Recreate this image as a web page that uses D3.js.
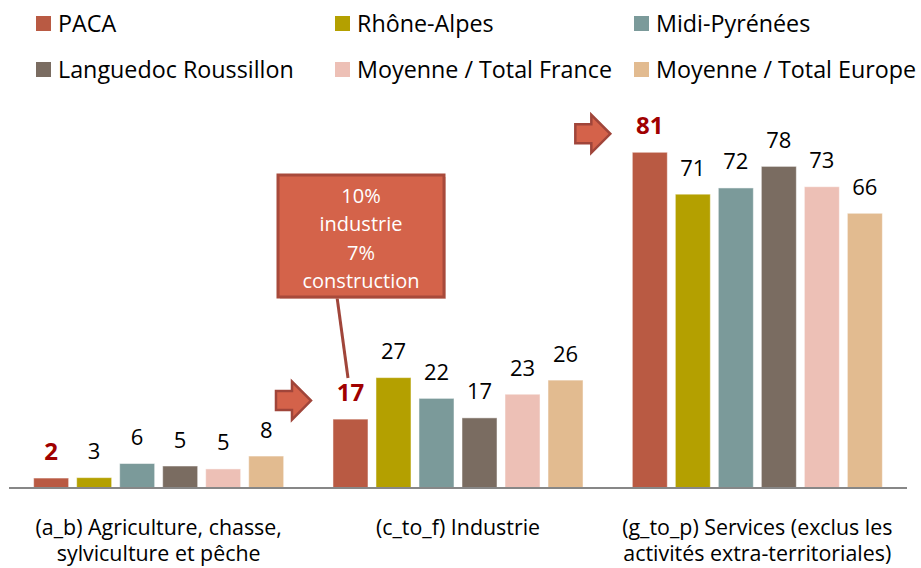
<!DOCTYPE html>
<html>
<head>
<meta charset="utf-8">
<script src="https://cdn.jsdelivr.net/npm/d3@7"></script>
<style>
  body { margin: 0; background: #fff; }
  svg { display: block; font-family: "Open Sans", Lato, sans-serif; }
</style>
</head>
<body>
<div id="vis"></div>
<script>
// frame size
const WIDTH = 921;
const HEIGHT = 568;

// data
const CATEGORIES = ["a_b", "c_to_f", "g_to_p"];
const CATEGORY_LINES = [
    ["(a_b) Agriculture, chasse,", "sylviculture et pêche"],
    ["(c_to_f) Industrie"],
    ["(g_to_p) Services (exclus les", "activités extra-territoriales)"]
];
const SERIES = ["PACA", "Rhône-Alpes", "Midi-Pyrénées", "Languedoc Roussillon",
                "Moyenne / Total France", "Moyenne / Total Europe"];
const PACA = [2.4, 16.6, 80.9];
const RHONE_ALPES = [2.5, 26.6, 70.8];
const MIDI_PYRENEES = [5.9, 21.6, 72.3];
const LANGUEDOC = [5.3, 16.9, 77.5];
const FRANCE = [4.6, 22.6, 72.6];
const EUROPE = [7.7, 26.0, 66.2];
const CALLOUT_LINES = ["10%", "industrie", "7%", "construction"];

const VALUES = [PACA, RHONE_ALPES, MIDI_PYRENEES, LANGUEDOC, FRANCE, EUROPE];
const COLORS = ["#b95a43", "#b4a000", "#7b9a9a", "#7a6c61", "#edc0b6", "#e2bb90"];

// build rows for the bars
let rows = [];
CATEGORIES.forEach((c, i) => {
    SERIES.forEach((s, j) => {
        rows.push({cat: c, series: s, value: VALUES[j][i]});
    });
});

const FRAME = d3.select("#vis")
    .append("svg")
        .attr("width", WIDTH)
        .attr("height", HEIGHT);

// scales
const X0 = d3.scaleBand()
    .domain(CATEGORIES)
    .range([9, 907]);
const X1 = d3.scaleBand()
    .domain(SERIES)
    .range([0, X0.bandwidth()])
    .paddingInner(0.186)
    .paddingOuter(0.573);
const Y = d3.scaleLinear()
    .domain([0, 90])
    .range([488, 114.5]);

const color = d3.scaleOrdinal().domain(SERIES).range(COLORS);

// bars
FRAME.selectAll(".bar")
    .data(rows)
    .enter().append("rect")
        .attr("class", "bar")
        .attr("x", (d) => { return X0(d.cat) + X1(d.series); })
        .attr("y", (d) => { return Y(d.value); })
        .attr("width", X1.bandwidth())
        .attr("height", (d) => { return Y(0) - Y(d.value); })
        .attr("fill", (d) => { return color(d.series); })
        .attr("stroke", "#ffffff")
        .attr("stroke-opacity", 0.5)
        .attr("stroke-width", 1);

// value labels (PACA bigger, bold, dark red)
FRAME.selectAll(".val")
    .data(rows)
    .enter().append("text")
        .attr("class", "val")
        .attr("x", (d) => { return X0(d.cat) + X1(d.series) + X1.bandwidth() / 2; })
        .attr("y", (d) => { return Y(d.value) - 18.5; })
        .attr("text-anchor", "middle")
        .attr("font-size", (d) => { return d.series == "PACA" ? "24px" : "22px"; })
        .attr("font-weight", (d) => { return d.series == "PACA" ? "bold" : "normal"; })
        .attr("fill", (d) => { return d.series == "PACA" ? "#a00000" : "#000000"; })
        .text((d) => { return Math.round(d.value); });

// x axis line
FRAME.append("line")
    .attr("x1", X0.range()[0])
    .attr("x2", X0.range()[1])
    .attr("y1", Y(0))
    .attr("y2", Y(0))
    .attr("stroke", "#878787")
    .attr("stroke-width", 2);

// category labels
CATEGORIES.forEach((c, i) => {
    let t = FRAME.append("text")
        .attr("text-anchor", "middle")
        .attr("font-size", "21.4px")
        .attr("fill", "#000");
    CATEGORY_LINES[i].forEach((line, k) => {
        t.append("tspan")
            .attr("x", X0(c) + X0.bandwidth() / 2)
            .attr("y", 534.5 + k * 26.5)
            .text(line);
    });
});

// block arrows pointing at PACA labels (industrie and services)
function arrow(tx, ty) {
    return "M" + (tx - 35) + "," + (ty - 9.5) +
           "L" + (tx - 19) + "," + (ty - 9.5) +
           "L" + (tx - 19) + "," + (ty - 19) +
           "L" + tx + "," + ty +
           "L" + (tx - 19) + "," + (ty + 19) +
           "L" + (tx - 19) + "," + (ty + 9.5) +
           "L" + (tx - 35) + "," + (ty + 9.5) + "Z";
}
[1, 2].forEach((i) => {
    let cx = X0(CATEGORIES[i]) + X1("PACA") + X1.bandwidth() / 2;
    FRAME.append("path")
        .attr("d", arrow(cx - 39.5, Y(PACA[i]) - 18.5))
        .attr("fill", "#d4624a")
        .attr("stroke", "#a0453a")
        .attr("stroke-width", 2.5)
        .attr("stroke-linejoin", "miter");
});

// callout box with leader line
const BOX = {x: 278, y: 175, w: 166, h: 122};
FRAME.append("line")
    .attr("x1", 337)
    .attr("y1", BOX.y + BOX.h)
    .attr("x2", 348)
    .attr("y2", 378)
    .attr("stroke", "#a0453a")
    .attr("stroke-width", 3);
FRAME.append("rect")
    .attr("x", BOX.x + 2)
    .attr("y", BOX.y + 2)
    .attr("width", BOX.w)
    .attr("height", BOX.h)
    .attr("fill", "#d9b2a8")
    .attr("opacity", 0.6);
FRAME.append("rect")
    .attr("x", BOX.x)
    .attr("y", BOX.y)
    .attr("width", BOX.w)
    .attr("height", BOX.h)
    .attr("fill", "#d4634a")
    .attr("stroke", "#a84a3b")
    .attr("stroke-width", 3);
CALLOUT_LINES.forEach((line, k) => {
    FRAME.append("text")
        .attr("x", BOX.x + BOX.w / 2)
        .attr("y", 202.5 + k * 28.5)
        .attr("text-anchor", "middle")
        .attr("font-size", "20px")
        .attr("fill", "#ffffff")
        .text(line);
});

// legend, 3 columns x 2 rows
const LEG_X = [36, 335, 634];
const LEG_Y = [16, 62];
SERIES.forEach((s, i) => {
    let lx = LEG_X[i % 3];
    let ly = LEG_Y[Math.floor(i / 3)];
    FRAME.append("rect")
        .attr("x", lx)
        .attr("y", ly)
        .attr("width", 15)
        .attr("height", 15)
        .attr("fill", color(s));
    FRAME.append("text")
        .attr("x", lx + 22)
        .attr("y", ly + 15.5)
        .attr("font-size", "23.3px")
        .attr("fill", "#000")
        .text(s);
});
</script>
</body>
</html>
